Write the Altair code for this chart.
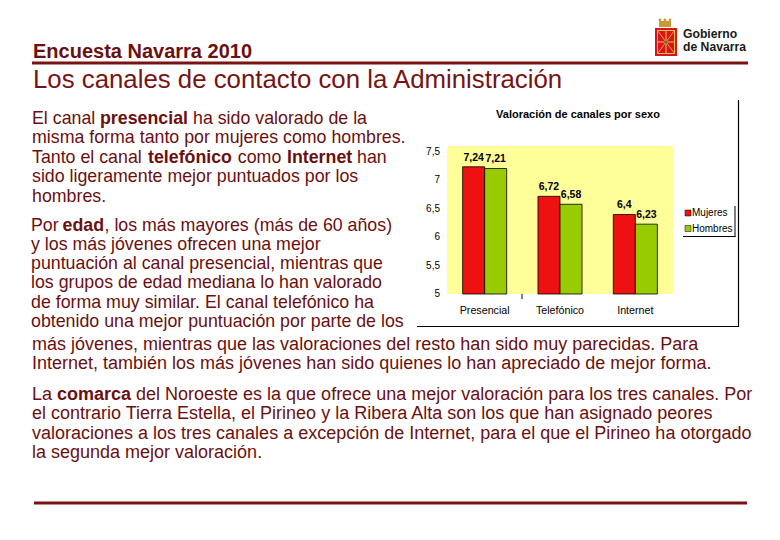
import altair as alt
import pandas as pd

# ---------------- data ----------------
canales = ["Presencial", "Telefónico", "Internet"]
sexos = ["Mujeres", "Hombres"]
mujeres = [7.24, 6.72, 6.4]
hombres = [7.21, 6.58, 6.23]
mujeres_lbl = ["7,24", "6,72", "6,4"]
hombres_lbl = ["7,21", "6,58", "6,23"]
y_ticks = [5, 5.5, 6, 6.5, 7, 7.5]
y_tick_lbl = ["5", "5,5", "6", "6,5", "7", "7,5"]

cabecera = "Encuesta Navarra 2010"
titulo = "Los canales de contacto con la Administración"
titulo_grafico = "Valoración de canales por sexo"
logo_txt = ["Gobierno", "de Navarra"]

# paragraph lines as (text, bold) segments
parrafo1 = [
    [("El canal", False), ("presencial", True), ("ha sido valorado de la", False)],
    [("misma forma tanto por mujeres como hombres.", False)],
    [("Tanto el canal", False), ("telefónico", True), ("como", False), ("Internet", True), ("han", False)],
    [("sido ligeramente mejor puntuados por los", False)],
    [("hombres.", False)],
]
parrafo2 = [
    [("Por", False), ("edad", True), (", los más mayores (más de 60 años)", False)],
    [("y los más jóvenes ofrecen una mejor", False)],
    [("puntuación al canal presencial, mientras que", False)],
    [("los grupos de edad mediana lo han valorado", False)],
    [("de forma muy similar. El canal telefónico ha", False)],
    [("obtenido una mejor puntuación por parte de los", False)],
]
parrafo3 = [
    [("más jóvenes, mientras que las valoraciones del resto han sido muy parecidas. Para", False)],
    [("Internet, también los más jóvenes han sido quienes lo han apreciado de mejor forma.", False)],
]
parrafo4 = [
    [("La", False), ("comarca", True), ("del Noroeste es la que ofrece una mejor valoración para los tres canales. Por", False)],
    [("el contrario Tierra Estella, el Pirineo y la Ribera Alta son los que han asignado peores", False)],
    [("valoraciones a los tres canales a excepción de Internet, para el que el Pirineo ha otorgado", False)],
    [("la segunda mejor valoración.", False)],
]

# ---------------- layout ----------------
W, H = 764, 524
M = 8
FONT = "Liberation Sans"
TXT = "#6b0f0f"
ROJO_OSC = "#7a1212"


def P(v):
    return v - M


def one():
    return pd.DataFrame({"k": [0]})


def texto(s, x, y, size=17.8, bold=False, color=TXT, align="left", baseline="alphabetic"):
    return alt.Chart(pd.DataFrame({"t": [s]})).mark_text(
        align=align, baseline=baseline, font=FONT, fontSize=size,
        fontWeight="bold" if bold else "normal", color=color
    ).encode(x=alt.value(P(x)), y=alt.value(P(y)), text="t:N")


def regla(x1, y1, x2, y2, color, w):
    return alt.Chart(one()).mark_rule(color=color, strokeWidth=w).encode(
        x=alt.value(P(x1)), y=alt.value(P(y1)), x2=alt.value(P(x2)), y2=alt.value(P(y2)))


def caja(x1, y1, x2, y2, fill, stroke=None, sw=0):
    kw = dict(fill=fill)
    if stroke:
        kw.update(stroke=stroke, strokeWidth=sw)
    return alt.Chart(one()).mark_rect(**kw).encode(
        x=alt.value(P(x1)), y=alt.value(P(y1)), x2=alt.value(P(x2)), y2=alt.value(P(y2)))


def circulo(x, y, size, color):
    return alt.Chart(one()).mark_circle(size=size, color=color, opacity=1).encode(
        x=alt.value(P(x)), y=alt.value(P(y)))


layers = []

# header rules
layers.append(regla(32, 63, 748, 63, ROJO_OSC, 3))
layers.append(regla(34, 503, 747, 503, ROJO_OSC, 3))

# logo
layers.append(caja(659, 21, 671, 27, "#c99a3a"))
for cx in (660, 665, 670):
    layers.append(circulo(cx, 20, 8, "#c99a3a"))
layers.append(caja(655, 28, 677, 56, "#d8141c"))
layers.append(caja(657.5, 30.5, 674.5, 53.5, "none", "#f2c14a", 1))
layers.append(regla(666, 30.5, 666, 53.5, "#f2c14a", 1))
layers.append(regla(657.5, 42, 674.5, 42, "#f2c14a", 1))
layers.append(regla(657.5, 30.5, 674.5, 53.5, "#f2c14a", 0.8))
layers.append(regla(674.5, 30.5, 657.5, 53.5, "#f2c14a", 0.8))
layers.append(circulo(666, 42, 10, "#2f8a3a"))
layers.append(texto(logo_txt[0], 683, 38, size=12.2, bold=True, color="#1a1a1a"))
layers.append(texto(logo_txt[1], 683, 51, size=12.2, bold=True, color="#1a1a1a"))

# titles
layers.append(texto(cabecera, 33, 58, size=20, bold=True, color="#6b1010"))
layers.append(texto(titulo, 33, 88, size=25.8, color="#761414"))

# paragraphs
starts1 = [[32, 100, 193], [32], [32, 148, 237.8, 287, 357], [32], [32]]
base1 = [124, 143.4, 162.8, 182.2, 201.6]
for segs, xs_, yb in zip(parrafo1, starts1, base1):
    for (s, b), x in zip(segs, xs_):
        layers.append(texto(s, x, yb, size=17.8, bold=b))

starts2 = [[31, 62.5, 104.5], [31], [31], [31], [31], [31]]
base2 = [231, 250.2, 269.4, 288.4, 307.6, 326.7]
for segs, xs_, yb in zip(parrafo2, starts2, base2):
    for (s, b), x in zip(segs, xs_):
        layers.append(texto(s, x, yb, size=17.8, bold=b))

base3 = [350, 369.3]
for segs, yb in zip(parrafo3, base3):
    layers.append(texto(segs[0][0], 32, yb, size=18))

starts4 = [[32, 57, 136], [32], [32], [32]]
base4 = [400, 419.3, 438.5, 457.7]
for segs, xs_, yb in zip(parrafo4, starts4, base4):
    for (s, b), x in zip(segs, xs_):
        layers.append(texto(s, x, yb, size=18, bold=b))

# chart frame (right & bottom) and plot background
layers.append(regla(738.5, 100, 738.5, 326.5, "#000000", 1.2))
layers.append(regla(417, 326.5, 739, 326.5, "#000000", 1.2))
layers.append(caja(447, 146, 673, 294, "#ffff99"))
layers.append(regla(522, 294, 522, 299, "#000000", 1))

# chart title
layers.append(texto(titulo_grafico, 578, 115, size=11, bold=True, color="#000000",
                    align="center", baseline="middle"))

# bars
df = pd.DataFrame({
    "canal": canales * 2,
    "sexo": [sexos[0]] * 3 + [sexos[1]] * 3,
    "valor": mujeres + hombres,
    "etiqueta": mujeres_lbl + hombres_lbl,
})
xs = alt.Scale(domain=canales, range=[P(447), P(673)], paddingInner=0, paddingOuter=0)
ys = alt.Scale(domain=[5, 7.606], range=[P(294), P(146)], nice=False, zero=False)
xo = alt.Scale(domain=sexos, paddingInner=0, paddingOuter=0.71)
cs = alt.Scale(domain=sexos, range=["#ee1111", "#99cc00"])

barras = alt.Chart(df).mark_bar(stroke="#000000", strokeWidth=0.8).encode(
    x=alt.X("canal:N", scale=xs, axis=None),
    xOffset=alt.XOffset("sexo:N", scale=xo),
    y=alt.Y("valor:Q", scale=ys, axis=None),
    y2=alt.datum(5),
    color=alt.Color("sexo:N", scale=cs, legend=None),
)
etiquetas = alt.Chart(df).mark_text(
    font=FONT, fontSize=10.5, fontWeight="bold", dy=-9, baseline="middle", color="#000000"
).encode(
    x=alt.X("canal:N", scale=xs, axis=None),
    xOffset=alt.XOffset("sexo:N", scale=xo),
    y=alt.Y("valor:Q", scale=ys, axis=None),
    text="etiqueta:N",
)
layers += [barras, etiquetas]

# y tick labels
dft = pd.DataFrame({"valor": y_ticks, "lbl": y_tick_lbl})
layers.append(alt.Chart(dft).mark_text(
    font=FONT, fontSize=10, align="right", baseline="middle", color="#000000"
).encode(x=alt.value(P(440)), y=alt.Y("valor:Q", scale=ys, axis=None), text="lbl:N"))

# category labels
dfc = pd.DataFrame({"canal": canales})
layers.append(alt.Chart(dfc).mark_text(
    font=FONT, fontSize=10.7, baseline="middle", color="#000000"
).encode(x=alt.X("canal:N", scale=xs, axis=None), y=alt.value(P(311)), text="canal:N"))

# legend
layers.append(regla(735, 206, 735, 237, "#000000", 1))
layers.append(regla(683, 236.5, 735.5, 236.5, "#000000", 1))
for s, yc in zip(sexos, [213, 228.5]):
    dl = pd.DataFrame({"sexo": [s]})
    layers.append(alt.Chart(dl).mark_square(size=36, opacity=1, filled=True, stroke="#000000",
                                             strokeWidth=0.5).encode(
        x=alt.value(P(688)), y=alt.value(P(yc)),
        color=alt.Color("sexo:N", scale=cs, legend=None)))
    layers.append(alt.Chart(dl).mark_text(
        font=FONT, fontSize=10, align="left", baseline="middle", color="#000000"
    ).encode(x=alt.value(P(692)), y=alt.value(P(yc)), text="sexo:N"))

chart = alt.layer(*layers).properties(
    width=W, height=H, padding=0, background="white"
).configure_view(stroke=None)

chart.save("out.html", embed_options={"renderer": "svg", "actions": False})
